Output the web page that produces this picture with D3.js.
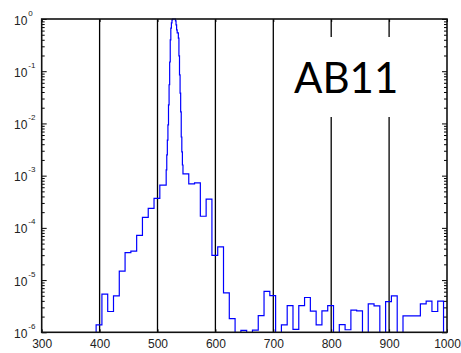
<!DOCTYPE html>
<html>
<head>
<meta charset="utf-8"/>
<script src="https://d3js.org/d3.v7.min.js"></script>
<style>
    body { margin: 0; background: #fff; }
    .tick text { fill: #222; }
</style>
</head>
<body>
<div id="viz"><svg width="461" height="353"></svg></div>
<script type="text/javascript">

    // spectrum (step start in nm, relative intensity)
    const wavelength = [384, 394, 404, 414, 424, 434, 444, 454, 464, 474, 484, 494, 504,
        515, 516, 517, 518, 519, 520, 521, 522, 523, 524, 525, 526, 531, 532, 533, 534,
        536, 537, 538, 539, 540, 541, 542, 543, 544,
        554, 564, 574, 584, 594, 604, 614, 624, 634, 644, 654, 664, 674, 684, 694,
        704, 714, 724, 734, 744, 754, 764, 774, 784, 794, 804, 814, 824, 834, 844,
        854, 864, 874, 884, 894, 904, 914, 924, 934, 944, 954, 964, 974, 984, 994, 1004];
    const intensity = [4e-7, 1.39e-6, 5.4e-6, 2.5e-6, 5.0e-6, 1.49e-5, 3.37e-5, 3.6e-5, 7.2e-5, 1.59e-4, 2.36e-4, 3.67e-4, 6.6e-4,
        1.29e-3, 2.5e-3, 4.8e-3, 9.4e-3, 2.26e-2, 5.5e-2, 0.15, 0.4, 0.67, 0.84, 0.96, 1.0, 0.92, 0.77, 0.62, 0.54,
        0.43, 0.196, 0.085, 0.038, 0.0166, 5.5e-3, 2.85e-3, 1.6e-3, 1.08e-3,
        6.95e-4, 7.27e-4, 1.67e-4, 3.56e-4, 2.98e-5, 4.33e-5, 5.7e-6, 1.83e-6, 5e-7, 1.09e-6, 5e-7, 1.1e-6, 2.09e-6, 6.1e-6, 5.06e-6,
        5e-7, 1.39e-6, 3.24e-6, 1.14e-6, 3.24e-6, 4.64e-6, 2.55e-6, 1.39e-6, 2.58e-6, 3.24e-6, 5e-7, 1.4e-6, 1.12e-6, 2.66e-6, 2.58e-6,
        5e-7, 3.51e-6, 3.2e-6, 5e-7, 3.88e-6, 5.0e-6, 5e-7, 2.07e-6, 2.07e-6, 2.07e-6, 3.51e-6, 3.95e-6, 2.5e-6, 3.95e-6, 5e-7, 5e-7];

    const xTicks = [300, 400, 500, 600, 700, 800, 900, 1000];
    const gridLines = [400, 500, 600, 700, 800, 900];
    const yMajor = [1e0, 1e-1, 1e-2, 1e-3, 1e-4, 1e-5, 1e-6];
    const yExponents = ["0", "-1", "-2", "-3", "-4", "-5", "-6"];
    const label = "AB11";

    const plotL = 41.7, plotR = 447, plotT = 19, plotB = 332.3;

    const x = d3.scaleLinear().domain([300, 1000]).range([plotL, plotR]);
    const y = d3.scaleLog().domain([1e-6, 1]).range([plotB, plotT]);

    const svg = d3.select("svg");

    svg.append("clipPath").attr("id", "plotClip")
        .append("rect")
        .attr("x", plotL).attr("y", plotT - 1)
        .attr("width", plotR - plotL).attr("height", plotB - plotT + 1);

    // vertical lines
    svg.append("g")
        .selectAll("line")
        .data(gridLines).enter()
        .append("line")
        .attr("x1", d => x(d)).attr("x2", d => x(d))
        .attr("y1", plotT).attr("y2", plotB)
        .attr("stroke", "#000")
        .attr("stroke-width", 1.3);

    // the spectrum as stairs
    const pts = wavelength.map((w, i) => ({w: w, v: intensity[i]}));
    const stairs = d3.line()
        .x(d => x(d.w))
        .y(d => y(d.v))
        .curve(d3.curveStepAfter);

    svg.append("path")
        .attr("d", stairs(pts))
        .attr("clip-path", "url(#plotClip)")
        .attr("fill", "none")
        .attr("stroke", "#0000ff")
        .attr("stroke-width", 1.2);

    // white box behind the label
    svg.append("rect")
        .attr("x", 284).attr("y", 37)
        .attr("width", 140).attr("height", 80)
        .attr("fill", "#fff");

    svg.append("text")
        .attr("x", 294).attr("y", 93)
        .style("font-family", "Lato")
        .style("font-size", "42px")
        .attr("fill", "#000")
        .text(label);

    // minor ticks from the log scale, majors separately
    const minor = y.ticks().filter(t => yMajor.indexOf(t) < 0);

    function noDomain(g) { g.select(".domain").remove(); }

    svg.append("g").attr("transform", "translate(" + plotL + ",0)")
        .call(d3.axisRight(y).tickValues(minor).tickSize(3).tickFormat(""))
        .call(noDomain);
    svg.append("g").attr("transform", "translate(" + plotL + ",0)")
        .call(d3.axisRight(y).tickValues(yMajor).tickSize(5).tickFormat(""))
        .call(noDomain);
    svg.append("g").attr("transform", "translate(" + plotR + ",0)")
        .call(d3.axisLeft(y).tickValues(minor).tickSize(3).tickFormat(""))
        .call(noDomain);
    svg.append("g").attr("transform", "translate(" + plotR + ",0)")
        .call(d3.axisLeft(y).tickValues(yMajor).tickSize(5).tickFormat(""))
        .call(noDomain);

    // x axis, ticks inside
    svg.append("g").attr("transform", "translate(0," + plotB + ")")
        .style("font-family", "Liberation Sans")
        .style("font-size", "12px")
        .call(d3.axisBottom(x).tickValues(xTicks).tickFormat(d3.format("d"))
            .tickSizeInner(-3).tickSizeOuter(0).tickPadding(7))
        .call(noDomain);
    svg.append("g").attr("transform", "translate(0," + plotT + ")")
        .call(d3.axisTop(x).tickValues(xTicks).tickSizeInner(-3).tickSizeOuter(0).tickFormat(""))
        .call(noDomain);

    svg.selectAll(".tick line").attr("stroke", "#000");

    // y labels 10^n
    const yLab = svg.append("g")
        .style("font-family", "Liberation Sans")
        .attr("fill", "#222");
    yMajor.forEach((v, i) => {
        const t = yLab.append("text")
            .attr("x", 14)
            .attr("y", y(v) + 5.5)
            .style("font-size", "12px")
            .text("10");
        t.append("tspan")
            .attr("dy", -9)
            .attr("dx", 1)
            .style("font-size", "8px")
            .text(yExponents[i]);
    });

    // frame
    svg.append("rect")
        .attr("x", plotL).attr("y", plotT)
        .attr("width", plotR - plotL).attr("height", plotB - plotT)
        .attr("fill", "none")
        .attr("stroke", "#111")
        .attr("stroke-width", 1.6);

</script>
</body>
</html>
